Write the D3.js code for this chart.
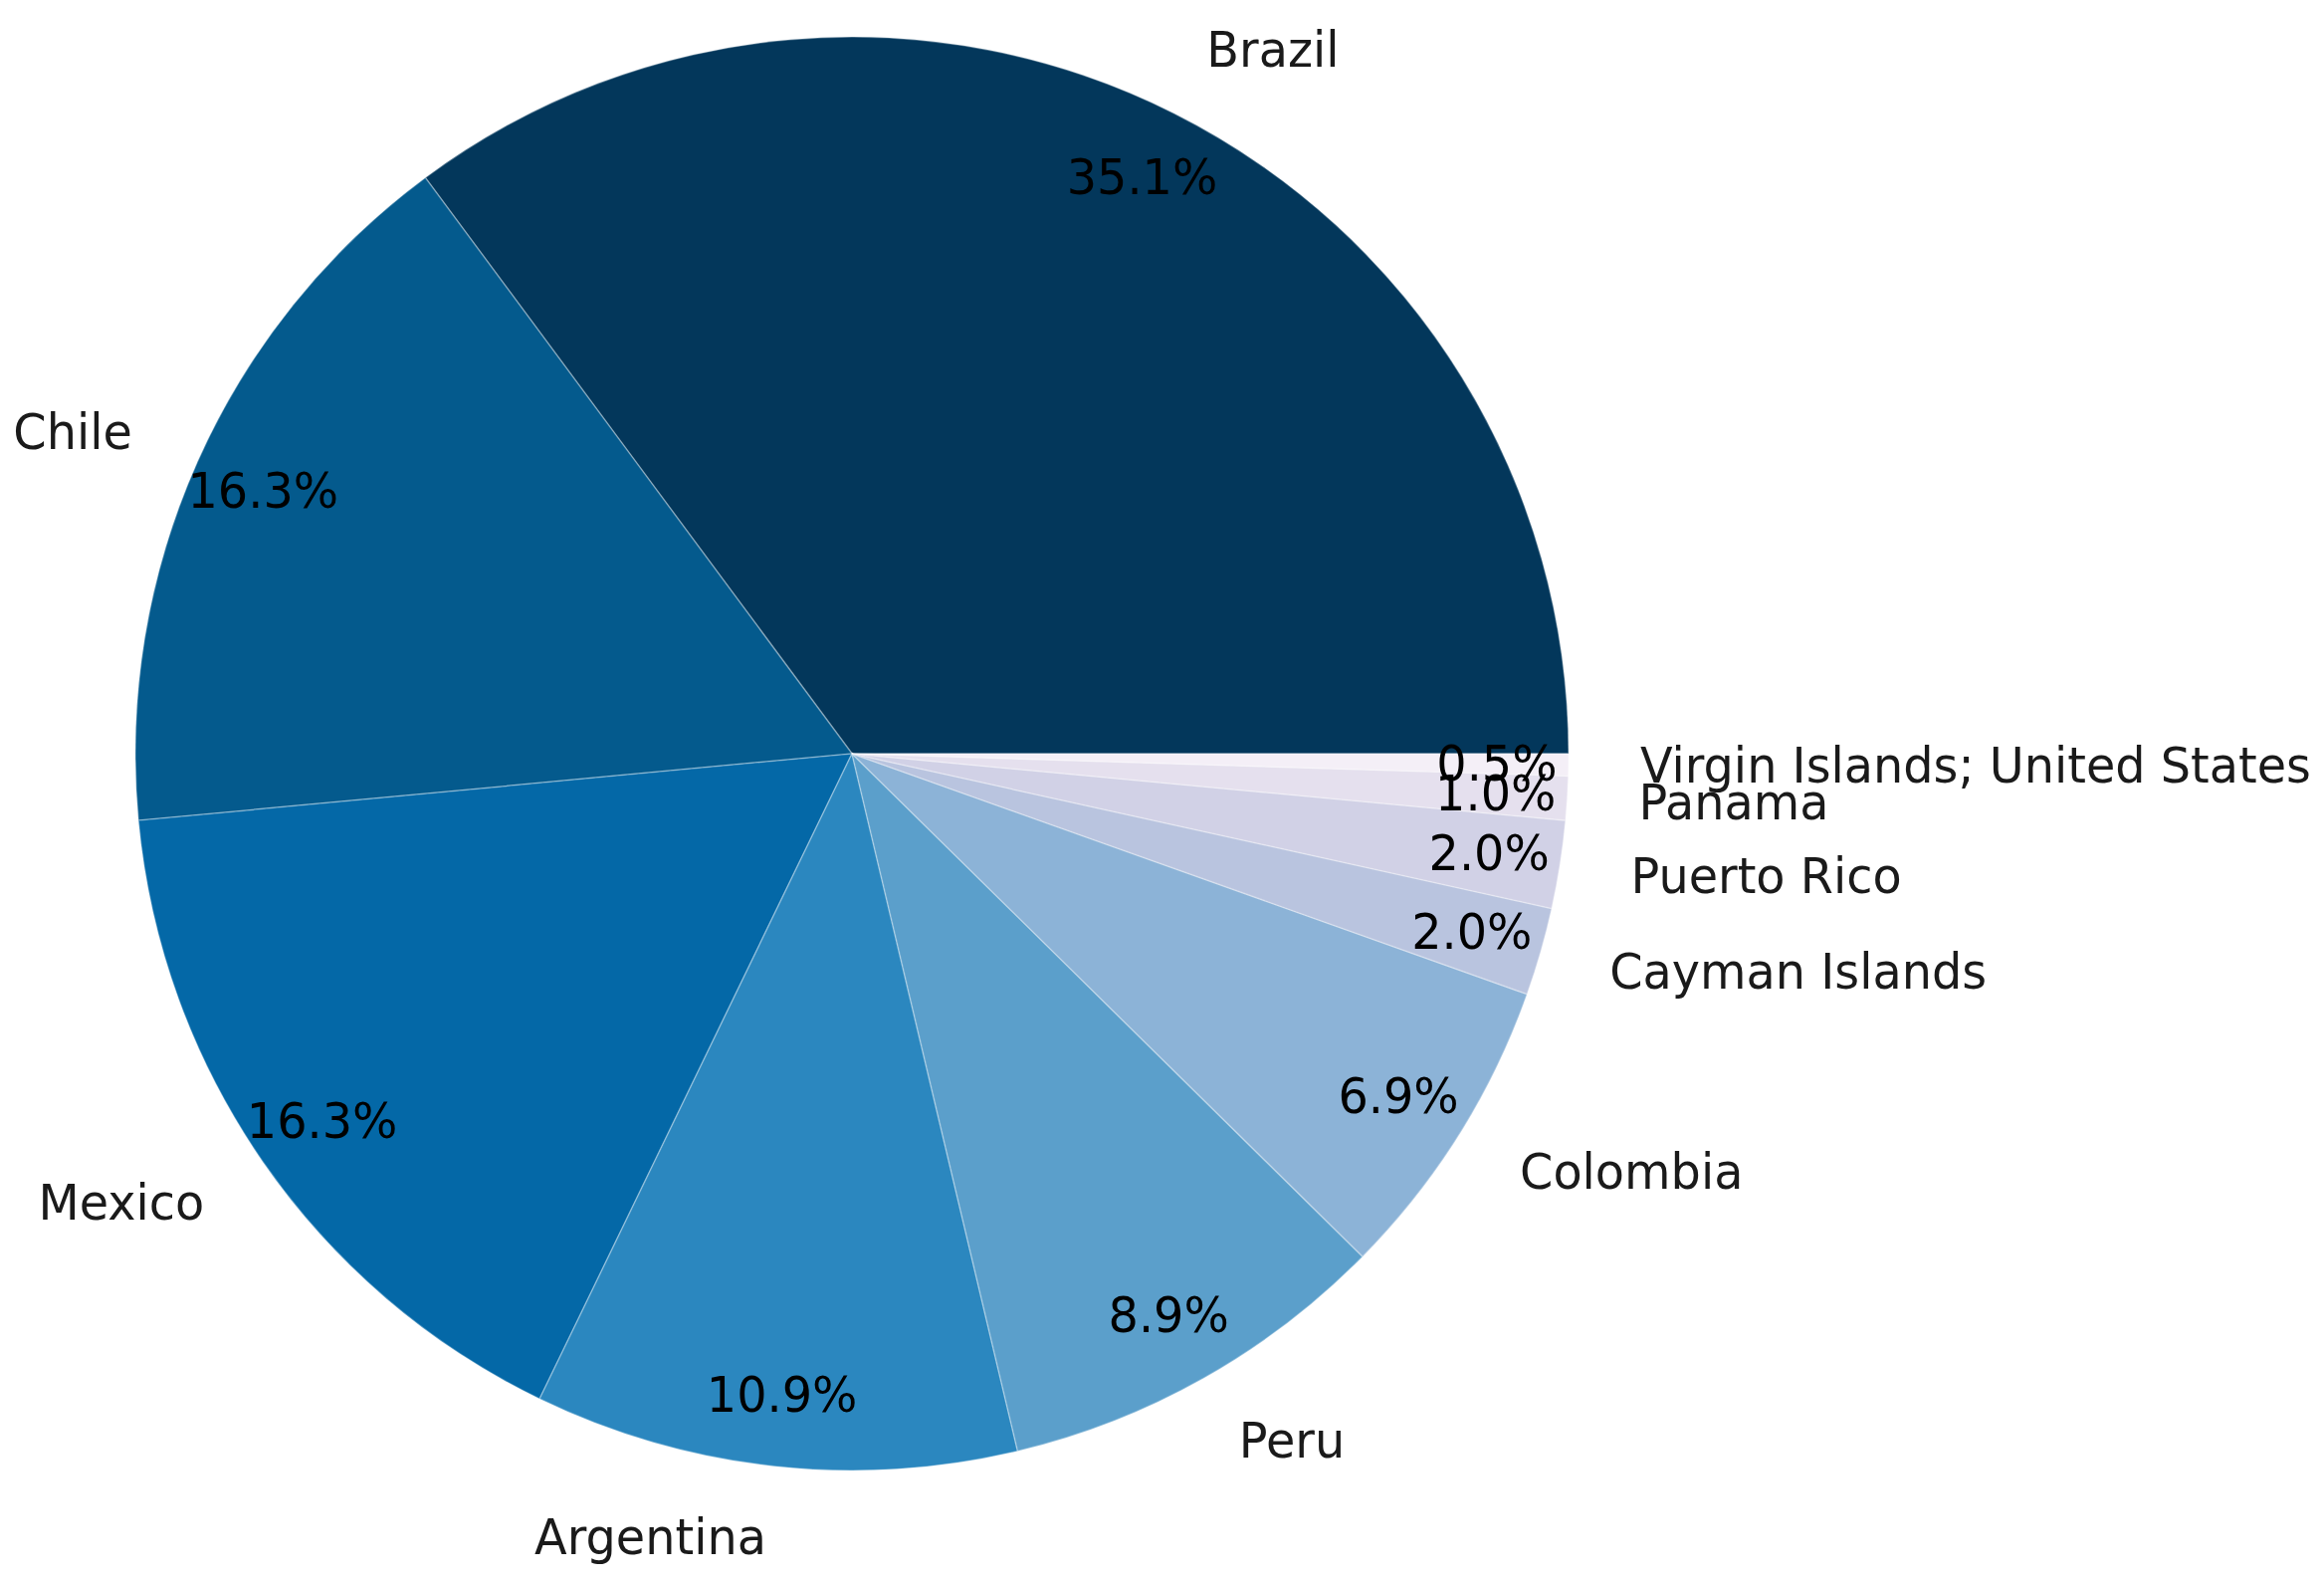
<!DOCTYPE html>
<html>
<head>
<meta charset="utf-8">
<script src="https://cdn.jsdelivr.net/npm/d3@7"></script>
<style>
  html, body { margin: 0; padding: 0; background: #ffffff; }
  svg { display: block; }
</style>
</head>
<body>
<svg id="chart" width="2335" height="1591"></svg>
<script>
const countries = ["Brazil", "Chile", "Mexico", "Argentina", "Peru", "Colombia",
                   "Cayman Islands", "Puerto Rico", "Panama", "Virgin Islands; United States"];
const counts = [71, 33, 33, 22, 18, 14, 4, 4, 2, 1];
const colors = ["#03375b", "#045a8d", "#0468a7", "#2b87bf", "#5b9fcb", "#8cb3d7",
                "#b9c4df", "#d1d1e6", "#e5e0ee", "#f4eff7"];

const W = 2335, H = 1591;
const cx = 856, cy = 757, R = 720;
const labelDist = 1.1, pctDist = 0.9;
const fontSize = 50, squeeze = 0.955;

const svg = d3.select("#chart");
const g = svg.append("g").attr("transform", `translate(${cx},${cy})`);

const total = d3.sum(counts);
const data = countries.map((c, i) => ({ name: c, value: counts[i], color: colors[i] }));

// matplotlib style: start at 3 o'clock, counterclockwise
const pie = d3.pie()
  .value(d => d.value)
  .sort(null)
  .startAngle(Math.PI / 2)
  .endAngle(Math.PI / 2 - 2 * Math.PI);

const arcs = pie(data);
const arc = d3.arc().innerRadius(0).outerRadius(R);

g.selectAll("path.slice")
  .data(arcs)
  .join("path")
  .attr("class", "slice")
  .attr("d", arc)
  .attr("fill", d => d.data.color)
  .attr("stroke", "rgba(255,255,255,0.3)")
  .attr("stroke-width", 1.5);

function pos(d, f) {
  const a = (d.startAngle + d.endAngle) / 2;
  return [Math.sin(a) * R * f, -Math.cos(a) * R * f];
}

// percentage texts
g.selectAll("text.pct")
  .data(arcs)
  .join("text")
  .attr("class", "pct")
  .attr("transform", d => { const [x, y] = pos(d, pctDist); return `translate(${x},${y}) scale(${squeeze},1)`; })
  .attr("text-anchor", "middle")
  .attr("dominant-baseline", "central")
  .style("font-family", "'DejaVu Sans', sans-serif")
  .style("font-size", fontSize + "px")
  .attr("fill", "#000")
  .text(d => (d.data.value / total * 100).toFixed(1) + "%");

// category labels
g.selectAll("text.lab")
  .data(arcs)
  .join("text")
  .attr("class", "lab")
  .attr("transform", d => { const [x, y] = pos(d, labelDist); return `translate(${x},${y}) scale(${squeeze},1)`; })
  .attr("text-anchor", d => pos(d, 1)[0] > 0 ? "start" : "end")
  .attr("dominant-baseline", "central")
  .style("font-family", "'DejaVu Sans', sans-serif")
  .style("font-size", fontSize + "px")
  .attr("fill", "#1a1a1a")
  .text(d => d.data.name);
</script>
</body>
</html>
